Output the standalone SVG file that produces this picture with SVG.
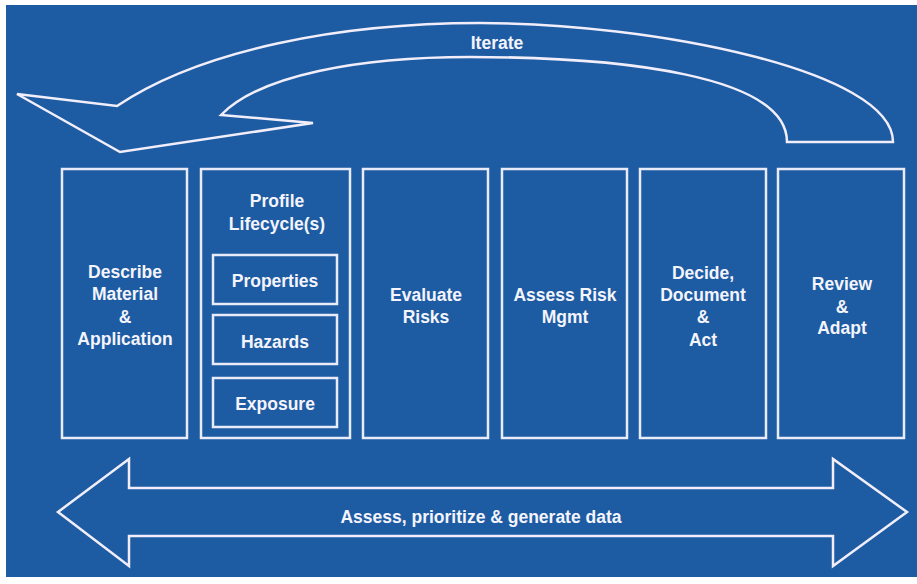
<svg xmlns="http://www.w3.org/2000/svg" width="917" height="584" viewBox="0 0 917 584">
<style>
.bx{fill:none;stroke:#e9ecf8;stroke-width:2.5}
.ln{fill:none;stroke:#f1eefa;stroke-width:2.5;stroke-linejoin:miter}
text{font-family:"Liberation Sans",Arial,sans-serif;font-weight:bold;font-size:17.5px;fill:#f4f4fb;text-anchor:middle}
</style>
<rect x="0" y="0" width="917" height="584" fill="#ffffff"/>
<rect x="6" y="5" width="911" height="572" fill="#1d5ba3"/>
<g id="connectors">
<g id="iterate-arrow">
<path class="ln" d="M893,142 C893,70 650,23 480,23 C340,23 200,50 117,106 L17,94 L120,152 L313,123 L221,115 C260,75 360,57 470,57 C620,57 787,75 787,142 Z"/>
<text x="497" y="49">Iterate</text>
</g>
<g id="data-arrow">
<path class="ln" d="M58,512 L129,459 L129,488 L833,488 L833,459 L907,512 L833,566 L833,536 L129,536 L129,566 Z"/>
<text x="481" y="523">Assess, prioritize &amp; generate data</text>
</g>
</g>
<g id="describe">
<rect class="bx" x="62" y="169" width="125" height="269"/>
<text x="125" y="278">Describe</text>
<text x="125" y="300">Material</text>
<text x="125" y="323">&amp;</text>
<text x="125" y="345">Application</text>
</g>
<g id="profile">
<rect class="bx" x="201" y="169" width="149" height="269"/>
<text x="277" y="207">Profile</text>
<text x="277" y="230">Lifecycle(s)</text>
<g id="properties">
<rect class="bx" x="213" y="255" width="124" height="49"/>
<text x="275" y="287">Properties</text>
</g>
<g id="hazards">
<rect class="bx" x="213" y="315" width="124" height="49"/>
<text x="275" y="348">Hazards</text>
</g>
<g id="exposure">
<rect class="bx" x="213" y="378" width="124" height="49"/>
<text x="275" y="410">Exposure</text>
</g>
</g>
<g id="evaluate">
<rect class="bx" x="363" y="169" width="125" height="269"/>
<text x="426" y="301">Evaluate</text>
<text x="426" y="323">Risks</text>
</g>
<g id="assess">
<rect class="bx" x="502" y="169" width="125" height="269"/>
<text x="565" y="301">Assess Risk</text>
<text x="565" y="323">Mgmt</text>
</g>
<g id="decide">
<rect class="bx" x="640" y="169" width="126" height="269"/>
<text x="703" y="279">Decide,</text>
<text x="703" y="301">Document</text>
<text x="703" y="323">&amp;</text>
<text x="703" y="346">Act</text>
</g>
<g id="review">
<rect class="bx" x="778" y="169" width="126" height="269"/>
<text x="842" y="290">Review</text>
<text x="842" y="313">&amp;</text>
<text x="842" y="334">Adapt</text>
</g>
</svg>
